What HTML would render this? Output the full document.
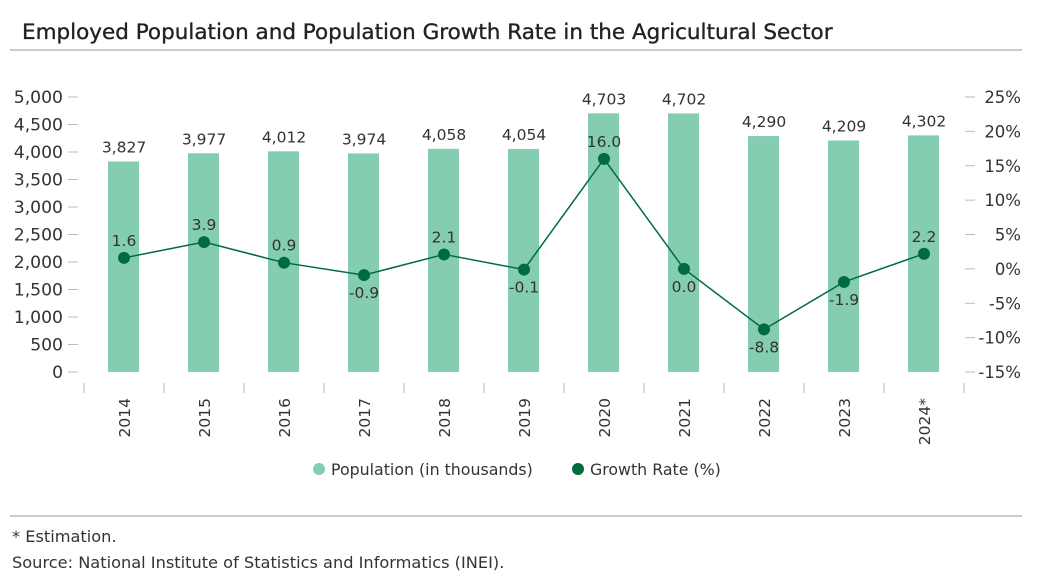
<!DOCTYPE html>
<html><head><meta charset="utf-8"><style>
body{margin:0;background:#fff;font-family:"DejaVu Sans","Liberation Sans",sans-serif;}
#wrap{position:relative;width:1055px;height:576px;overflow:hidden;}
</style></head><body>
<div id="wrap">
<svg id="chart" width="1055" height="576" font-family="DejaVu Sans, Liberation Sans, sans-serif">
<text x="22" y="39" font-size="21.5" fill="#222" stroke="#222" stroke-width="0.35">Employed Population and Population Growth Rate in the Agricultural Sector</text>
<line x1="10" y1="50" x2="1022" y2="50" stroke="#999" stroke-width="1"/>
<g id="axes"></g><g id="bars"></g><g id="line"></g>
<g>
<circle cx="319" cy="469" r="6" fill="#85cdb0"/>
<text x="331" y="475" font-size="15.8" fill="#333">Population (in thousands)</text>
<circle cx="578" cy="469" r="6" fill="#006b3f"/>
<text x="590" y="475" font-size="15.8" fill="#333">Growth Rate (%)</text>
</g>
<line x1="10" y1="516" x2="1022" y2="516" stroke="#999" stroke-width="1"/>
<text x="12" y="542" font-size="16.2" fill="#333">* Estimation.</text>
<text x="12" y="568" font-size="16.2" fill="#333">Source: National Institute of Statistics and Informatics (INEI).</text>
</svg></div>
<script>
const categories=["2014","2015","2016","2017","2018","2019","2020","2021","2022","2023","2024*"];
const population=[3827,3977,4012,3974,4058,4054,4703,4702,4290,4209,4302];
const popLabels=["3,827","3,977","4,012","3,974","4,058","4,054","4,703","4,702","4,290","4,209","4,302"];
const growth=[1.6,3.9,0.9,-0.9,2.1,-0.1,16.0,0.0,-8.8,-1.9,2.2];
const growthLabels=["1.6","3.9","0.9","-0.9","2.1","-0.1","16.0","0.0","-8.8","-1.9","2.2"];
const leftTicks=[0,500,1000,1500,2000,2500,3000,3500,4000,4500,5000];
const leftTickLabels=["0","500","1,000","1,500","2,000","2,500","3,000","3,500","4,000","4,500","5,000"];
const rightTicks=[-15,-10,-5,0,5,10,15,20,25];
const rightTickLabels=["-15%","-10%","-5%","0%","5%","10%","15%","20%","25%"];
const NS="http://www.w3.org/2000/svg";
const yTop=97,yBot=372,x0=84,step=80;
const yL=v=>yBot-(v-0)/5000*(yBot-yTop);
const yR=v=>yBot-(v+15)/40*(yBot-yTop);
const xC=i=>x0+step*(i+0.5);
function mk(tag,attrs,parent,txt){const e=document.createElementNS(NS,tag);for(const k in attrs)e.setAttribute(k,attrs[k]);if(txt!==undefined)e.textContent=txt;parent.appendChild(e);return e;}
const axes=document.getElementById('axes'),bars=document.getElementById('bars'),line=document.getElementById('line');
leftTicks.forEach((v,i)=>{
 const t=mk('line',{x1:68,x2:78,y1:yL(v),y2:yL(v),stroke:'#bbb'},axes);
 
 
 const l=mk('text',{x:63,y:yL(v)+6,'text-anchor':'end','font-size':17.2,fill:'#333'},axes,leftTickLabels[i]);
 
 
});
rightTicks.forEach((v,i)=>{
 const t=mk('line',{x1:965,x2:975,y1:yR(v),y2:yR(v),stroke:'#bbb'},axes);
 
 
 const l=mk('text',{x:1021,y:yR(v)+6,'text-anchor':'end','font-size':16.5,fill:'#333'},axes,rightTickLabels[i]);
 
 
});
for(let i=0;i<=categories.length;i++){
 const t=mk('line',{x1:x0+step*i,x2:x0+step*i,y1:383,y2:393,stroke:'#bbb'},axes);
 
 
}
categories.forEach((c,i)=>{
 const x=xC(i);
 const l=mk('text',{x:0,y:0,'text-anchor':'end','font-size':15.5,fill:'#333',transform:`translate(${x+6},398) rotate(-90)`},axes,c);
 
 
 const b=mk('rect',{x:x-16,y:yL(population[i]),width:31,height:yBot-yL(population[i]),fill:'#85cdb0'},bars);
 
 
 const bl=mk('text',{x:x,y:yL(population[i])-9,'text-anchor':'middle','font-size':15.5,fill:'#333'},bars,popLabels[i]);
 
 
});
const pts=growth.map((g,i)=>xC(i)+','+yR(g)).join(' ');
const pl=mk('polyline',{points:pts,fill:'none',stroke:'#006b3f','stroke-width':1.5},line);


growth.forEach((g,i)=>{
 const c=mk('circle',{cx:xC(i),cy:yR(g),r:6,fill:'#006b3f'},line);
 
 
 const y=g>0?yR(g)-12:yR(g)+23;
 const l=mk('text',{x:xC(i),y:y,'text-anchor':'middle','font-size':15.5,fill:'#333'},line,growthLabels[i]);
 
 
});
</script>
</body></html>
